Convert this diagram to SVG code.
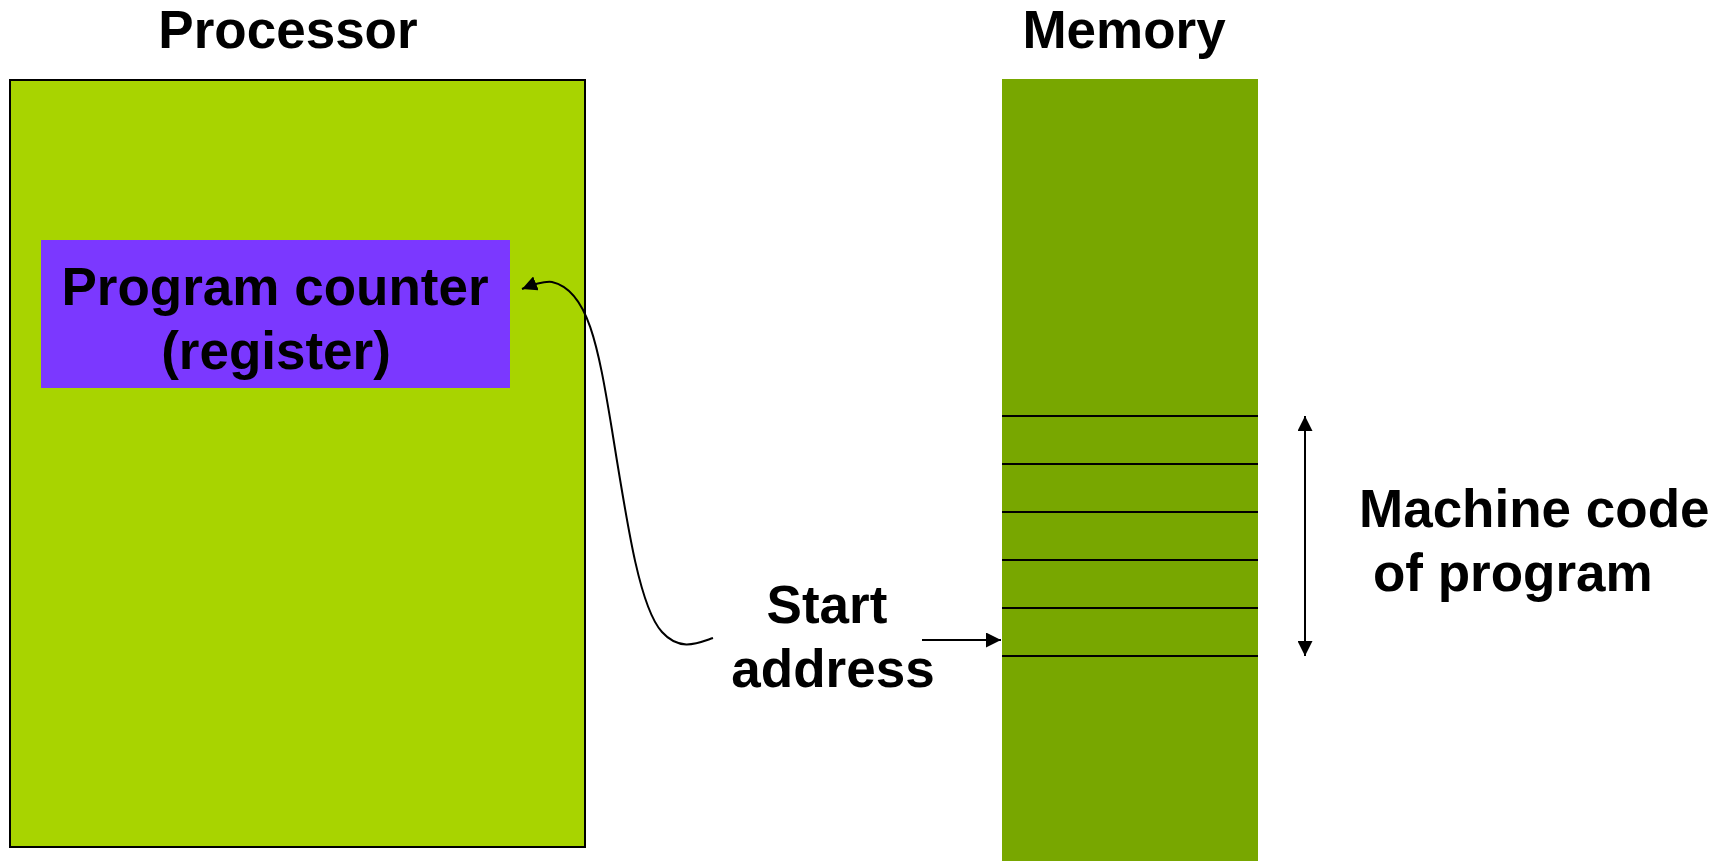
<svg xmlns="http://www.w3.org/2000/svg" width="1726" height="861" viewBox="0 0 1726 861">
  <style>
    .lbl { font-family: "Liberation Sans", Arial, sans-serif; font-weight: bold; font-size: 53px; fill: #000; }
    .mid { text-anchor: middle; }
    .wire { fill: none; stroke: #000; stroke-width: 2; }
    .slot { stroke: #000; stroke-width: 2; }
  </style>
  <defs>
    <marker id="head" viewBox="0 0 15 15" refX="15" refY="7.5" markerWidth="15" markerHeight="15" markerUnits="userSpaceOnUse" orient="auto-start-reverse">
      <path d="M0,0 L15,7.5 L0,15 z" fill="#000"/>
    </marker>
  </defs>
  <rect width="1726" height="861" fill="#fff"/>

  <!-- Processor block -->
  <g id="processor">
    <rect x="10" y="80" width="575" height="767" fill="#A8D400" stroke="#000" stroke-width="2"/>
    <text class="lbl mid" x="288" y="48">Processor</text>
  </g>

  <!-- Program counter register -->
  <g id="program-counter">
    <rect x="41" y="240" width="469" height="148" fill="#7B38FF"/>
    <text class="lbl mid" x="275" y="305">Program counter</text>
    <text class="lbl mid" x="276" y="369">(register)</text>
  </g>

  <!-- Memory column with program slots -->
  <g id="memory">
    <rect x="1002" y="79" width="256" height="782" fill="#78A700"/>
    <line class="slot" x1="1002" y1="416" x2="1258" y2="416"/>
    <line class="slot" x1="1002" y1="464" x2="1258" y2="464"/>
    <line class="slot" x1="1002" y1="512" x2="1258" y2="512"/>
    <line class="slot" x1="1002" y1="560" x2="1258" y2="560"/>
    <line class="slot" x1="1002" y1="608" x2="1258" y2="608"/>
    <line class="slot" x1="1002" y1="656" x2="1258" y2="656"/>
    <text class="lbl mid" x="1124" y="48">Memory</text>
  </g>

  <g id="start-address">
    <text class="lbl mid" x="827" y="623">Start</text>
    <text class="lbl mid" x="833" y="687">address</text>
  </g>

  <g id="machine-code">
    <text class="lbl" x="1359" y="527">Machine code</text>
    <text class="lbl" x="1373" y="591">of program</text>
  </g>

  <!-- Connectors -->
  <g id="connectors">
    <path class="wire" d="M713,638 C698,643 680,652 662,632 C640,608 628,530 612,430 C598,345 588,290 552,282 C544,281 532,285 522,289" marker-end="url(#head)"/>
    <line class="wire" x1="922" y1="640" x2="1001" y2="640" marker-end="url(#head)"/>
    <line class="wire" x1="1305" y1="416" x2="1305" y2="656" marker-start="url(#head)" marker-end="url(#head)"/>
  </g>
</svg>
